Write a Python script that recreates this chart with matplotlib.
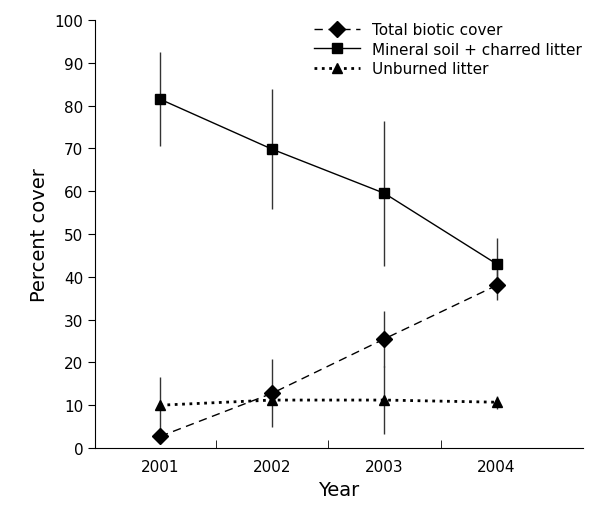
import matplotlib
matplotlib.use("Agg")
import matplotlib.pyplot as plt
from matplotlib.lines import Line2D

years = ["2001", "2002", "2003", "2004"]
biotic = [2.7, 12.8, 25.5, 38.0]
biotic_err = [0, 8.0, 6.5, 3.5]
mineral = [81.5, 69.8, 59.5, 43.0]
mineral_err = [11.0, 14.0, 17.0, 6.0]
unburned = [10.0, 11.2, 11.2, 10.7]
unburned_err = [6.5, 0, 8.0, 1.5]

fig = plt.figure(figsize=(5.96, 5.10), dpi=100)
ax = fig.add_axes([95/596, 61/510, 488/596, 428/510])
x = list(range(len(years)))
kw = dict(color="black", ecolor="#333333", elinewidth=1, capsize=0)
ax.errorbar(x, biotic, yerr=biotic_err, ls=(0, (6, 4)), marker="D", ms=8, lw=1, **kw)
ax.errorbar(x, mineral, yerr=mineral_err, ls="-", marker="s", ms=7, lw=1, **kw)
ax.errorbar(x, unburned, yerr=unburned_err, ls=":", marker="^", ms=7, lw=2, **kw)
handles = [Line2D([], [], color="black", ls=(0, (6, 4)), marker="D", ms=8, lw=1),
           Line2D([], [], color="black", ls="-", marker="s", ms=7, lw=1),
           Line2D([], [], color="black", ls=":", marker="^", ms=7, lw=2)]
labels = ["Total biotic cover", "Mineral soil + charred litter", "Unburned litter"]

ax.set_xlim(-0.58, 3.77)
ax.set_ylim(0, 100)
ax.set_yticks(range(0, 101, 10))
ax.set_xticks(x)
ax.set_xticklabels(years, fontsize=11)
ax.set_xticks([0.5, 1.5, 2.5], minor=True)
ax.tick_params(axis="x", which="major", length=0, pad=8)
ax.tick_params(axis="x", which="minor", length=6, direction="in")
ax.tick_params(axis="y", labelsize=11, direction="out", length=5)
ax.spines["top"].set_visible(False)
ax.spines["right"].set_visible(False)
ax.set_xlabel("Year", fontsize=14)
ax.set_ylabel("Percent cover", fontsize=14)
ax.legend(handles, labels, loc="upper right", frameon=False, fontsize=11, handlelength=3,
          borderpad=0.2, labelspacing=0.3, bbox_to_anchor=(1.02, 1.02))
fig.savefig("out.png", dpi=100)
